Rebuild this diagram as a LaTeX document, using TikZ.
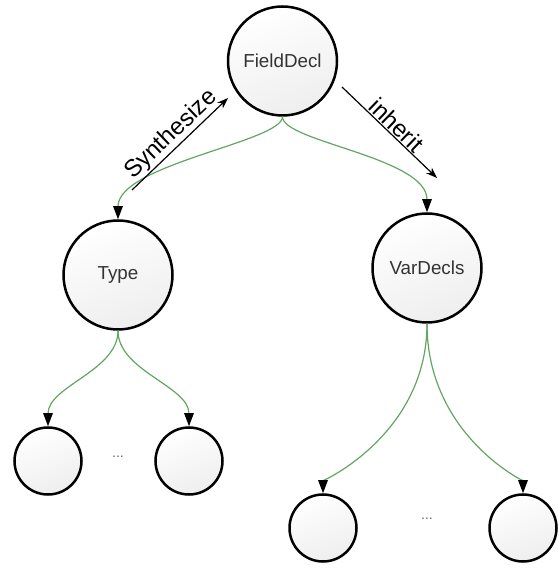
\documentclass[tikz,border=0pt]{standalone}
\usepackage{fontspec}
\setmainfont{Liberation Sans}
\usetikzlibrary{arrows.meta}
\definecolor{edgegreen}{RGB}{98,166,98}
\definecolor{nodefill}{RGB}{238,238,238}
\begin{document}
\begin{tikzpicture}[x=1pt,y=1pt,
  treenode/.style={circle,draw=black,line width=2.5pt,top color=white,bottom color=nodefill,shading angle=20,inner sep=0pt,text=black!80,font=\fontsize{18.8}{22}\selectfont},
  bignode/.style={treenode,minimum size=109pt},
  leafnode/.style={treenode,minimum size=67pt},
  childedge/.style={draw=edgegreen,line width=1.2pt,-{Triangle[length=13pt,width=9.5pt,color=black]}},
  flowarrow/.style={draw=black,line width=1.2pt,-{Stealth[length=11pt,width=8pt]}},
  flowlabel/.style={font=\fontsize{24}{28}\selectfont,sloped,above,inner sep=1pt},
  dotslabel/.style={text=black!60,font=\fontsize{14}{16}\selectfont}]
\useasboundingbox (0,0) rectangle (559,568);
% nodes
\node[bignode] (F) at (282.5,507) {FieldDecl};
\node[bignode] (T) at (118,293) {Type};
\node[bignode] (V) at (427,300) {VarDecls};
\node[leafnode] (L1) at (48,107) {};
\node[leafnode] (L2) at (189,107) {};
\node[leafnode] (R1) at (323,40) {};
\node[leafnode] (R2) at (523,40) {};
\node[dotslabel] (D1) at (118,111) {...};
\node[dotslabel] (D2) at (427,49) {...};
% tree edges
\draw[childedge] (F.south) .. controls +(0,-25) and +(0,55) .. (T.north);
\draw[childedge] (F.south) .. controls +(0,-25) and +(0,55) .. (V.north);
\draw[childedge] (T.south) .. controls +(0,-40) and +(0,40) .. (L1.north);
\draw[childedge] (T.south) .. controls +(0,-40) and +(0,40) .. (L2.north);
\draw[childedge] (V.south) .. controls +(0,-110) and +(0,12) .. (R1.north);
\draw[childedge] (V.south) .. controls +(0,-110) and +(0,12) .. (R2.north);
% flow arrows
\coordinate (s1) at (132,378);
\coordinate (s2) at (228,470);
\coordinate (i1) at (342,481);
\coordinate (i2) at (437,390);
\draw[flowarrow] (s1) -- node[flowlabel,pos=0.5] (SL) {Synthesize} (s2);
\draw[flowarrow] (i1) -- node[flowlabel,pos=0.5] (IL) {inherit} (i2);
\end{tikzpicture}
\end{document}
